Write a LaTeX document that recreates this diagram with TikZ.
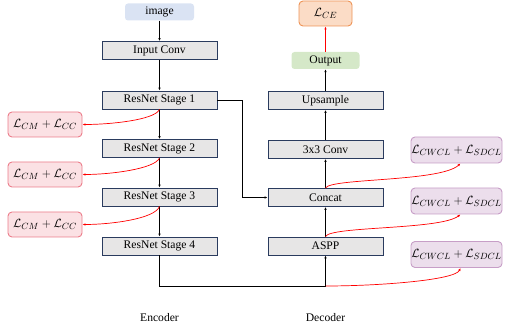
\documentclass[tikz,border=0pt]{standalone}
\usepackage{fontspec}
\setmainfont{Liberation Serif}
\usetikzlibrary{arrows.meta}
\definecolor{boxfill}{HTML}{E7E6E6}
\definecolor{boxline}{HTML}{2A3B5E}
\definecolor{imgfill}{HTML}{DAE3F3}
\definecolor{outfill}{HTML}{D5E8C8}
\definecolor{pinkfill}{HTML}{FBE1E4}
\definecolor{pinkline}{HTML}{EC7D8A}
\definecolor{purpfill}{HTML}{ECDEEC}
\definecolor{purpline}{HTML}{C79EC7}
\definecolor{orfill}{HTML}{FBDCC6}
\definecolor{orline}{HTML}{EE9457}
\tikzset{
  blk/.style={draw=boxline, fill=boxfill, line width=0.8pt, minimum width=115pt, minimum height=18pt, inner sep=0pt, font=\fontsize{11.6}{12}\selectfont},
  soft/.style={rounded corners=3pt, minimum height=17pt, inner sep=0pt, font=\fontsize{11.6}{12}\selectfont},
  lossL/.style={draw=pinkline, fill=pinkfill, line width=0.9pt, rounded corners=4pt, minimum width=74pt, minimum height=25pt, inner sep=0pt, font=\fontsize{12.5}{13}\selectfont},
  lossR/.style={draw=purpline, fill=purpfill, line width=0.9pt, rounded corners=4pt, minimum width=91pt, minimum height=26pt, inner sep=0pt, font=\fontsize{12.5}{13}\selectfont},
  arr/.style={-{Latex[length=3pt,width=2.5pt]}, line width=0.7pt, black},
  rarr/.style={-{Latex[length=3pt,width=2.5pt]}, line width=0.7pt, red},
  lbl/.style={font=\fontsize{11.6}{12}\selectfont}
}
\begin{document}
\begin{tikzpicture}[x=1pt,y=-1pt]
\useasboundingbox (0,0) rectangle (507,326);
% encoder
\node[soft, fill=imgfill, minimum width=69pt] (img) at (159.5,12) {image};
\node[blk] (inconv) at (159.5,50.5) {Input Conv};
\node[blk] (s1) at (159.5,100) {ResNet Stage 1};
\node[blk] (s2) at (159.5,148.5) {ResNet Stage 2};
\node[blk] (s3) at (159.5,197) {ResNet Stage 3};
\node[blk] (s4) at (159.5,246) {ResNet Stage 4};
% left losses
\node[lossL] (l1) at (45,124.5) {$\mathcal{L}_{CM}+\mathcal{L}_{CC}$};
\node[lossL] (l2) at (45,174.5) {$\mathcal{L}_{CM}+\mathcal{L}_{CC}$};
\node[lossL] (l3) at (45,224.5) {$\mathcal{L}_{CM}+\mathcal{L}_{CC}$};
% decoder
\node[soft, draw=orline, fill=orfill, line width=0.9pt, rounded corners=4pt, minimum width=53pt, minimum height=25pt, font=\fontsize{12.5}{13}\selectfont] (ce) at (325.5,13.5) {$\mathcal{L}_{CE}$};
\node[soft, fill=outfill, minimum width=68pt] (out) at (325.5,60.5) {Output};
\node[blk] (up) at (325.5,100.5) {Upsample};
\node[blk] (conv) at (325.5,149.5) {3x3 Conv};
\node[blk] (cat) at (325.5,197.5) {Concat};
\node[blk] (aspp) at (325.5,246) {ASPP};
% right losses
\node[lossR] (r1) at (456.5,150) {$\mathcal{L}_{CWCL}+\mathcal{L}_{SDCL}$};
\node[lossR] (r2) at (456.5,201) {$\mathcal{L}_{CWCL}+\mathcal{L}_{SDCL}$};
\node[lossR] (r3) at (456.5,254.5) {$\mathcal{L}_{CWCL}+\mathcal{L}_{SDCL}$};
% labels
\node[lbl] (enc) at (159.5,318) {Encoder};
\node[lbl] (dec) at (325.5,318) {Decoder};
% coordinates
\coordinate (j1) at (159.5,286);
\coordinate (j2) at (325.5,286);
\coordinate (k1) at (242,100);
\coordinate (k2) at (242,197.5);
% encoder arrows
\draw[arr] (img) -- (inconv);
\draw[arr] (inconv) -- (s1);
\draw[arr] (s1) -- (s2);
\draw[arr] (s2) -- (s3);
\draw[arr] (s3) -- (s4);
% skip
\draw[arr] (s1.east) -- (k1) -- (k2) -- (cat.west);
% bottom path
\draw[arr] (s4.south) -- (j1) -- (j2) -- (aspp.south);
% decoder arrows
\draw[arr] (aspp) -- (cat);
\draw[arr] (cat) -- (conv);
\draw[arr] (conv) -- (up);
\draw[arr] (up) -- (out);
\draw[rarr] (out) -- (ce);
% left losses
\draw[rarr] (s1.south) .. controls (155,120) and (110,124.5) .. (l1.east);
\draw[rarr] (s2.south) .. controls (155,169) and (110,174.5) .. (l2.east);
\draw[rarr] (s3.south) .. controls (155,219) and (110,224.5) .. (l3.east);
% right losses
\draw[rarr] (cat.north) .. controls (330,178) and (440,182) .. ([xshift=4pt]r1.south);
\draw[rarr] (aspp.north) .. controls (330,226) and (440,230) .. ([xshift=4pt]r2.south);
\draw[rarr] (j2) .. controls (380,286) and (455,280) .. ([xshift=4pt]r3.south);
\end{tikzpicture}
\end{document}
